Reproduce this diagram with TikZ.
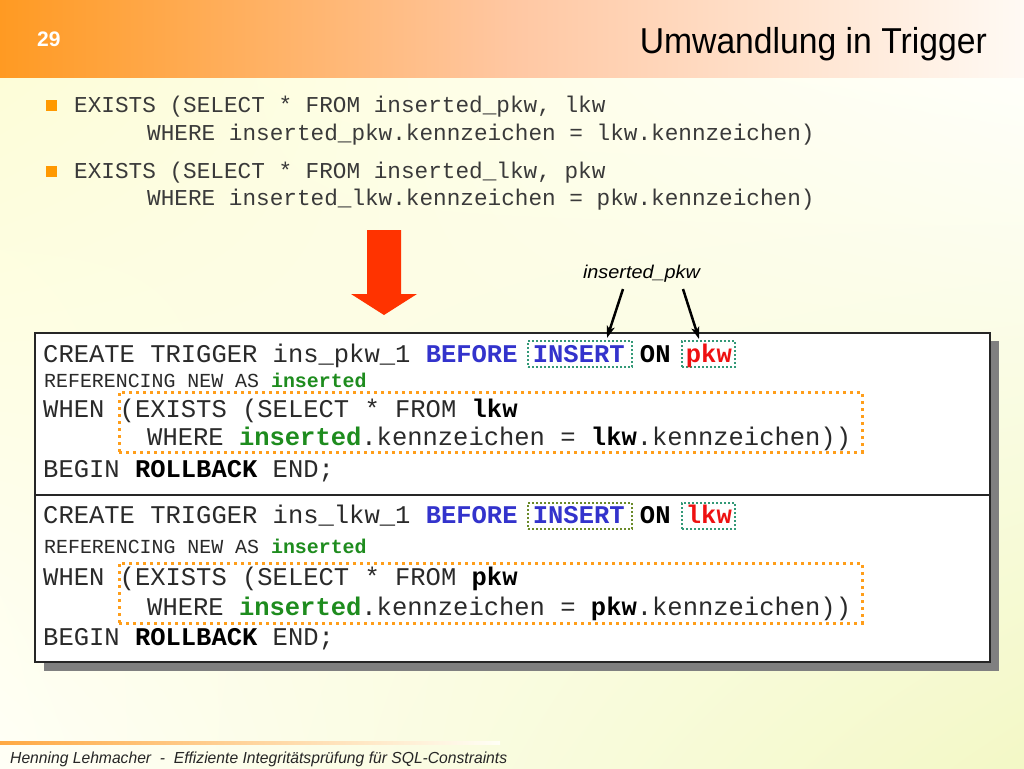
\documentclass[tikz,border=0pt]{standalone}
\usepackage{fontspec}
\usepackage{graphicx}
\setmainfont{Liberation Sans}
\newfontfamily\codefont{Liberation Mono}
\usetikzlibrary{arrows.meta,shadings}
\definecolor{hdrleft}{HTML}{FF9A22}
\definecolor{hdrmid}{HTML}{FFC7A2}
\definecolor{hdrright}{HTML}{FFFAF4}
\definecolor{bgul}{HTML}{FDFDD8}
\definecolor{bgur}{HTML}{FFFFFA}
\definecolor{bgll}{HTML}{FFFFF6}
\definecolor{bglr}{HTML}{F3F8C6}
\definecolor{bulletor}{HTML}{FF9900}
\definecolor{codegray}{HTML}{2A2A2A}
\definecolor{bulgray}{HTML}{3A3A3A}
\definecolor{kwblue}{HTML}{3333CC}
\definecolor{kwred}{HTML}{EE1111}
\definecolor{kwgreen}{HTML}{1E8C1E}
\definecolor{dotorange}{HTML}{FF9E1A}
\definecolor{dotteal}{HTML}{339977}
\definecolor{dotolive}{HTML}{6A8A2A}
\definecolor{shadowgray}{HTML}{808080}
\definecolor{arrowred}{HTML}{FF3300}
\tikzset{
  code/.style={anchor=base west, inner sep=0pt, text=codegray, font=\codefont\fontsize{25.5}{30}\selectfont},
  codesmall/.style={anchor=base west, inner sep=0pt, text=codegray, font=\codefont\fontsize{19.9}{24}\selectfont},
  bullettext/.style={anchor=base west, inner sep=0pt, text=bulgray, font=\codefont\fontsize{22.7}{27}\selectfont},
  orbox/.style={draw=dotorange, line width=3pt, dash pattern=on 3pt off 4pt, minimum width=743pt, minimum height=60pt, inner sep=0pt},
  gbox/.style={line width=2pt, dash pattern=on 2pt off 2pt, minimum height=26pt, inner sep=0pt},
  framebox/.style={draw=black!85, line width=1.5pt, fill=white},
  annarrow/.style={line width=2.5pt, -{Stealth[length=12pt,width=8pt,inset=3pt]}},
  bulletsq/.style={fill=bulletor, draw=none, minimum size=11pt, inner sep=0pt}
}
\begin{document}
\begin{tikzpicture}[x=1pt,y=-1pt]
\frenchspacing
\useasboundingbox (0,0) rectangle (1024,768);
% background
\shade[upper left=bgul, upper right=bgur, lower left=bgll, lower right=bglr] (0,77) rectangle (1024,768);
\shade[left color=hdrleft, right color=hdrright, middle color=hdrmid] (0,0) rectangle (1024,77);
% footer line
\shade[left color=hdrleft!85!white, right color=bgll] (0,741.5) rectangle (500,744.5);
% header texts
\node[anchor=base west, inner sep=0pt, text=white, font=\bfseries\fontsize{21}{24}\selectfont] (pagenum) at (37,46) {29};
\node[anchor=base east, inner sep=0pt, text=black] (title) at (987,53) {\resizebox{347pt}{\height}{\fontsize{36}{40}\selectfont Umwandlung in Trigger}};
% footer text
\node[anchor=base west, inner sep=0pt, text=black!85] (footer) at (10,763) {\resizebox{497pt}{\height}{\itshape\fontsize{16}{19}\selectfont Henning Lehmacher\ \ -\ \ Effiziente Integritätsprüfung für SQL-Constraints}};
% bullets
\node[bulletsq] (b1) at (51.5,105.5) {};
\node[bulletsq] (b2) at (51.5,171.5) {};
\node[bullettext] (t1a) at (74,112) {EXISTS (SELECT * FROM inserted\_pkw, lkw};
\node[bullettext] (t1b) at (147,140) {WHERE inserted\_pkw.kennzeichen = lkw.kennzeichen)};
\node[bullettext] (t2a) at (74,178) {EXISTS (SELECT * FROM inserted\_lkw, pkw};
\node[bullettext] (t2b) at (147,205) {WHERE inserted\_lkw.kennzeichen = pkw.kennzeichen)};
% big red arrow
\fill[arrowred] (367,230) -- (401,230) -- (401,294) -- (417,294) -- (384,315) -- (351,294) -- (367,294) -- cycle;
% shadow and frames
\fill[shadowgray] (44,341) rectangle (999,671);
\node[framebox, anchor=north west, minimum width=955pt, minimum height=162pt, inner sep=0pt] (box1) at (34,332) {};
\node[framebox, anchor=north west, minimum width=955pt, minimum height=167pt, inner sep=0pt] (box2) at (34,494) {};
% dotted boxes
\node[orbox] (cond1) at (490.5,422) {};
\node[orbox] (cond2) at (490.5,593) {};
\node[gbox, draw=dotteal, minimum width=104pt] (ins1) at (580,354) {};
\node[gbox, draw=dotteal, minimum width=53pt] (tab1) at (708.5,354) {};
\node[gbox, draw=dotolive, minimum width=104pt] (ins2) at (580,516) {};
\node[gbox, draw=dotteal, minimum width=53pt] (tab2) at (708.5,516) {};
% code box 1
\node[code] (c1l1) at (43,362) {CREATE TRIGGER ins\_pkw\_1 \textbf{\color{kwblue}BEFORE} \textbf{\color{kwblue}INSERT} \textbf{\color{black}ON} \textbf{\color{kwred}pkw}};
\node[codesmall] (c1l2) at (44,387) {REFERENCING NEW AS \textbf{\color{kwgreen}inserted}};
\node[code] (c1l3) at (43,417) {WHEN (EXISTS (SELECT * FROM \textbf{\color{black}lkw}};
\node[code] (c1l4) at (147,445) {WHERE \textbf{\color{kwgreen}inserted}.kennzeichen = \textbf{\color{black}lkw}.kennzeichen))};
\node[code] (c1l5) at (43,477) {BEGIN \textbf{\color{black}ROLLBACK} END;};
% code box 2
\node[code] (c2l1) at (43,523) {CREATE TRIGGER ins\_lkw\_1 \textbf{\color{kwblue}BEFORE} \textbf{\color{kwblue}INSERT} \textbf{\color{black}ON} \textbf{\color{kwred}lkw}};
\node[codesmall] (c2l2) at (44,553) {REFERENCING NEW AS \textbf{\color{kwgreen}inserted}};
\node[code] (c2l3) at (43,585) {WHEN (EXISTS (SELECT * FROM \textbf{\color{black}pkw}};
\node[code] (c2l4) at (147,615) {WHERE \textbf{\color{kwgreen}inserted}.kennzeichen = \textbf{\color{black}pkw}.kennzeichen))};
\node[code] (c2l5) at (43,645) {BEGIN \textbf{\color{black}ROLLBACK} END;};
% annotation
\node[anchor=base, inner sep=0pt, text=black] (lbl) at (641.5,278) {\resizebox{117pt}{\height}{\itshape\fontsize{18.5}{22}\selectfont inserted\_pkw}};
\draw[annarrow] ([xshift=-18.5pt,yshift=-7pt]lbl.south) -- ([xshift=27pt,yshift=2pt]ins1.north);
\draw[annarrow] ([xshift=41.5pt,yshift=-7pt]lbl.south) -- ([xshift=-9.5pt,yshift=1pt]tab1.north);
\end{tikzpicture}
\end{document}
